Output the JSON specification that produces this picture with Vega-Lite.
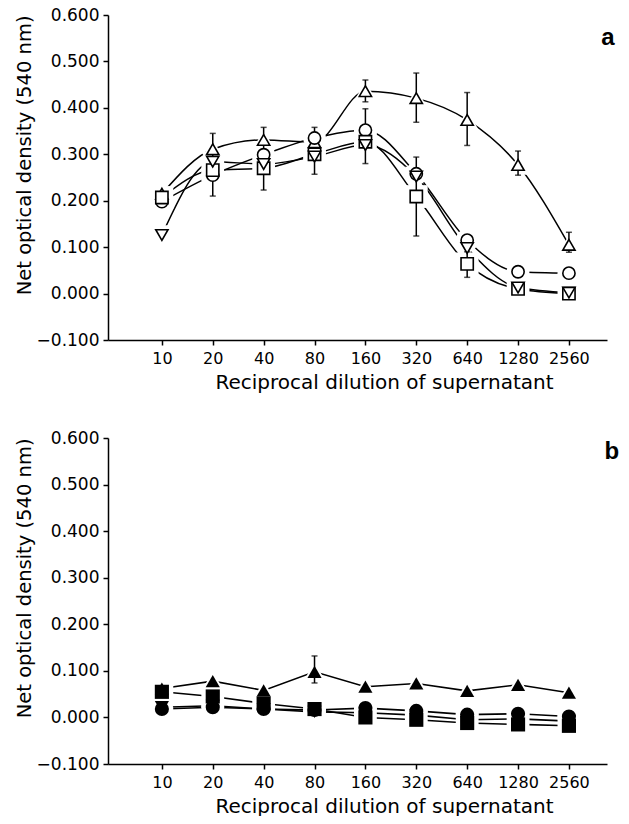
{
  "$schema": "https://vega.github.io/schema/vega-lite/v6.json",
  "padding": {"left": 14, "top": 6, "right": 0, "bottom": 0},
  "background": "white",
  "spacing": 37,
  "datasets": {
    "series": [
      {"panel": "a", "marker": "tri", "dilution": 10, "od": 0.215},
      {"panel": "a", "marker": "tri", "dilution": 20, "od": 0.311},
      {"panel": "a", "marker": "tri", "dilution": 40, "od": 0.331},
      {"panel": "a", "marker": "tri", "dilution": 80, "od": 0.326},
      {"panel": "a", "marker": "tri", "dilution": 160, "od": 0.436},
      {"panel": "a", "marker": "tri", "dilution": 320, "od": 0.421},
      {"panel": "a", "marker": "tri", "dilution": 640, "od": 0.374},
      {"panel": "a", "marker": "tri", "dilution": 1280, "od": 0.277},
      {"panel": "a", "marker": "tri", "dilution": 2560, "od": 0.105},
      {"panel": "a", "marker": "circle", "dilution": 10, "od": 0.198},
      {"panel": "a", "marker": "circle", "dilution": 20, "od": 0.255},
      {"panel": "a", "marker": "circle", "dilution": 40, "od": 0.299},
      {"panel": "a", "marker": "circle", "dilution": 80, "od": 0.335},
      {"panel": "a", "marker": "circle", "dilution": 160, "od": 0.352},
      {"panel": "a", "marker": "circle", "dilution": 320, "od": 0.258},
      {"panel": "a", "marker": "circle", "dilution": 640, "od": 0.115},
      {"panel": "a", "marker": "circle", "dilution": 1280, "od": 0.047},
      {"panel": "a", "marker": "circle", "dilution": 2560, "od": 0.044},
      {"panel": "a", "marker": "square", "dilution": 10, "od": 0.207},
      {"panel": "a", "marker": "square", "dilution": 20, "od": 0.266},
      {"panel": "a", "marker": "square", "dilution": 40, "od": 0.270},
      {"panel": "a", "marker": "square", "dilution": 80, "od": 0.300},
      {"panel": "a", "marker": "square", "dilution": 160, "od": 0.327},
      {"panel": "a", "marker": "square", "dilution": 320, "od": 0.209},
      {"panel": "a", "marker": "square", "dilution": 640, "od": 0.064},
      {"panel": "a", "marker": "square", "dilution": 1280, "od": 0.010},
      {"panel": "a", "marker": "square", "dilution": 2560, "od": 0.000},
      {"panel": "a", "marker": "inv", "dilution": 10, "od": 0.126},
      {"panel": "a", "marker": "inv", "dilution": 20, "od": 0.284},
      {"panel": "a", "marker": "inv", "dilution": 40, "od": 0.279},
      {"panel": "a", "marker": "inv", "dilution": 80, "od": 0.295},
      {"panel": "a", "marker": "inv", "dilution": 160, "od": 0.320},
      {"panel": "a", "marker": "inv", "dilution": 320, "od": 0.252},
      {"panel": "a", "marker": "inv", "dilution": 640, "od": 0.098},
      {"panel": "a", "marker": "inv", "dilution": 1280, "od": 0.013},
      {"panel": "a", "marker": "inv", "dilution": 2560, "od": 0.002},
      {"panel": "b", "marker": "tri", "dilution": 10, "od": 0.062},
      {"panel": "b", "marker": "tri", "dilution": 20, "od": 0.078},
      {"panel": "b", "marker": "tri", "dilution": 40, "od": 0.058},
      {"panel": "b", "marker": "tri", "dilution": 80, "od": 0.098},
      {"panel": "b", "marker": "tri", "dilution": 160, "od": 0.066},
      {"panel": "b", "marker": "tri", "dilution": 320, "od": 0.073},
      {"panel": "b", "marker": "tri", "dilution": 640, "od": 0.057},
      {"panel": "b", "marker": "tri", "dilution": 1280, "od": 0.070},
      {"panel": "b", "marker": "tri", "dilution": 2560, "od": 0.053},
      {"panel": "b", "marker": "square", "dilution": 10, "od": 0.055},
      {"panel": "b", "marker": "square", "dilution": 20, "od": 0.045},
      {"panel": "b", "marker": "square", "dilution": 40, "od": 0.030},
      {"panel": "b", "marker": "square", "dilution": 80, "od": 0.018},
      {"panel": "b", "marker": "square", "dilution": 160, "od": 0.000},
      {"panel": "b", "marker": "square", "dilution": 320, "od": -0.005},
      {"panel": "b", "marker": "square", "dilution": 640, "od": -0.012},
      {"panel": "b", "marker": "square", "dilution": 1280, "od": -0.015},
      {"panel": "b", "marker": "square", "dilution": 2560, "od": -0.018},
      {"panel": "b", "marker": "circle", "dilution": 10, "od": 0.018},
      {"panel": "b", "marker": "circle", "dilution": 20, "od": 0.022},
      {"panel": "b", "marker": "circle", "dilution": 40, "od": 0.018},
      {"panel": "b", "marker": "circle", "dilution": 80, "od": 0.016},
      {"panel": "b", "marker": "circle", "dilution": 160, "od": 0.020},
      {"panel": "b", "marker": "circle", "dilution": 320, "od": 0.014},
      {"panel": "b", "marker": "circle", "dilution": 640, "od": 0.006},
      {"panel": "b", "marker": "circle", "dilution": 1280, "od": 0.008},
      {"panel": "b", "marker": "circle", "dilution": 2560, "od": 0.002},
      {"panel": "b", "marker": "inv", "dilution": 10, "od": 0.022},
      {"panel": "b", "marker": "inv", "dilution": 20, "od": 0.025},
      {"panel": "b", "marker": "inv", "dilution": 40, "od": 0.018},
      {"panel": "b", "marker": "inv", "dilution": 80, "od": 0.012},
      {"panel": "b", "marker": "inv", "dilution": 160, "od": 0.010},
      {"panel": "b", "marker": "inv", "dilution": 320, "od": 0.005},
      {"panel": "b", "marker": "inv", "dilution": 640, "od": -0.005},
      {"panel": "b", "marker": "inv", "dilution": 1280, "od": -0.003},
      {"panel": "b", "marker": "inv", "dilution": 2560, "od": -0.008}
    ],
    "errors": [
      {"panel": "a", "dilution": 20, "lo": 0.210, "hi": 0.345},
      {"panel": "a", "dilution": 40, "lo": 0.223, "hi": 0.358},
      {"panel": "a", "dilution": 80, "lo": 0.257, "hi": 0.358},
      {"panel": "a", "dilution": 160, "lo": 0.413, "hi": 0.460},
      {"panel": "a", "dilution": 160, "lo": 0.280, "hi": 0.398},
      {"panel": "a", "dilution": 320, "lo": 0.369, "hi": 0.475},
      {"panel": "a", "dilution": 320, "lo": 0.124, "hi": 0.294},
      {"panel": "a", "dilution": 640, "lo": 0.319, "hi": 0.433},
      {"panel": "a", "dilution": 640, "lo": 0.035, "hi": 0.090},
      {"panel": "a", "dilution": 1280, "lo": 0.255, "hi": 0.307},
      {"panel": "a", "dilution": 2560, "lo": 0.089, "hi": 0.132},
      {"panel": "b", "dilution": 80, "lo": 0.074, "hi": 0.132}
    ],
    "tags": [
      {"panel": "a", "dilution": 4350, "od": 0.535, "tag": "a"},
      {"panel": "b", "dilution": 4600, "od": 0.555, "tag": "b"}
    ]
  },
  "vconcat": [
    {
      "width": 499,
      "height": 325,
      "encoding": {
        "x": {
          "field": "dilution", "type": "quantitative",
          "scale": {"type": "log", "base": 2, "domain": [4.8, 4300], "nice": false},
          "axis": {"values": [10, 20, 40, 80, 160, 320, 640, 1280, 2560], "format": "d"},
          "title": "Reciprocal dilution of supernatant"
        },
        "y": {
          "field": "od", "type": "quantitative",
          "scale": {"domain": [-0.1, 0.6], "nice": false, "zero": false},
          "axis": {"values": [-0.1, 0, 0.1, 0.2, 0.3, 0.4, 0.5, 0.6], "format": ".3f"},
          "title": "Net optical density (540 nm)"
        }
      },
      "layer": [
        {
          "data": {"name": "series"},
          "transform": [{"filter": "datum.panel == 'a'"}],
          "mark": {"type": "line", "interpolate": "monotone", "color": "black", "strokeWidth": 1.5},
          "encoding": {"detail": {"field": "marker"}}
        },
        {
          "data": {"name": "series"},
          "transform": [{"filter": "datum.panel == 'a'"}],
          "mark": {"type": "point", "filled": true, "color": "white", "opacity": 1, "size": 520},
          "encoding": {
            "shape": {"field": "marker", "scale": {"domain": ["tri", "circle", "square", "inv"], "range": ["triangle-up", "circle", "square", "triangle-down"]}, "legend": null}
          }
        },
        {
          "data": {"name": "errors"},
          "transform": [{"filter": "datum.panel == 'a'"}],
          "mark": {"type": "rule", "color": "black", "strokeWidth": 1.5},
          "encoding": {
            "y": {"field": "lo", "type": "quantitative", "title": "Net optical density (540 nm)"},
            "y2": {"field": "hi"}
          }
        },
        {
          "data": {"name": "errors"},
          "transform": [{"filter": "datum.panel == 'a'"}],
          "mark": {"type": "tick", "orient": "horizontal", "color": "black", "size": 6, "thickness": 1.5},
          "encoding": {"y": {"field": "lo", "type": "quantitative", "title": "Net optical density (540 nm)"}}
        },
        {
          "data": {"name": "errors"},
          "transform": [{"filter": "datum.panel == 'a'"}],
          "mark": {"type": "tick", "orient": "horizontal", "color": "black", "size": 6, "thickness": 1.5},
          "encoding": {"y": {"field": "hi", "type": "quantitative", "title": "Net optical density (540 nm)"}}
        },
        {
          "data": {"name": "series"},
          "transform": [{"filter": "datum.panel == 'a'"}],
          "mark": {"type": "point", "filled": true, "fill": "white", "stroke": "black", "strokeWidth": 1.6, "opacity": 1, "size": 150},
          "encoding": {
            "shape": {"field": "marker", "scale": {"domain": ["tri", "circle", "square", "inv"], "range": ["triangle-up", "circle", "square", "triangle-down"]}, "legend": null}
          }
        },
        {
          "data": {"name": "tags"},
          "transform": [{"filter": "datum.panel == 'a'"}],
          "mark": {"type": "text", "font": "Liberation Sans", "fontWeight": "bold", "fontSize": 24, "align": "center", "baseline": "alphabetic", "color": "black"},
          "encoding": {"text": {"field": "tag"}}
        }
      ]
    },
    {
      "width": 499,
      "height": 326,
      "encoding": {
        "x": {
          "field": "dilution", "type": "quantitative",
          "scale": {"type": "log", "base": 2, "domain": [4.8, 4300], "nice": false},
          "axis": {"values": [10, 20, 40, 80, 160, 320, 640, 1280, 2560], "format": "d"},
          "title": "Reciprocal dilution of supernatant"
        },
        "y": {
          "field": "od", "type": "quantitative",
          "scale": {"domain": [-0.1, 0.6], "nice": false, "zero": false},
          "axis": {"values": [-0.1, 0, 0.1, 0.2, 0.3, 0.4, 0.5, 0.6], "format": ".3f"},
          "title": "Net optical density (540 nm)"
        }
      },
      "layer": [
        {
          "data": {"name": "series"},
          "transform": [{"filter": "datum.panel == 'b'"}],
          "mark": {"type": "line", "color": "black", "strokeWidth": 1.6},
          "encoding": {"detail": {"field": "marker"}}
        },
        {
          "data": {"name": "series"},
          "transform": [{"filter": "datum.panel == 'b'"}],
          "mark": {"type": "point", "filled": true, "color": "white", "opacity": 1, "size": 520},
          "encoding": {
            "shape": {"field": "marker", "scale": {"domain": ["tri", "circle", "square", "inv"], "range": ["triangle-up", "circle", "square", "triangle-down"]}, "legend": null}
          }
        },
        {
          "data": {"name": "errors"},
          "transform": [{"filter": "datum.panel == 'b'"}],
          "mark": {"type": "rule", "color": "black", "strokeWidth": 1.5},
          "encoding": {
            "y": {"field": "lo", "type": "quantitative", "title": "Net optical density (540 nm)"},
            "y2": {"field": "hi"}
          }
        },
        {
          "data": {"name": "errors"},
          "transform": [{"filter": "datum.panel == 'b'"}],
          "mark": {"type": "tick", "orient": "horizontal", "color": "black", "size": 6, "thickness": 1.5},
          "encoding": {"y": {"field": "lo", "type": "quantitative", "title": "Net optical density (540 nm)"}}
        },
        {
          "data": {"name": "errors"},
          "transform": [{"filter": "datum.panel == 'b'"}],
          "mark": {"type": "tick", "orient": "horizontal", "color": "black", "size": 6, "thickness": 1.5},
          "encoding": {"y": {"field": "hi", "type": "quantitative", "title": "Net optical density (540 nm)"}}
        },
        {
          "data": {"name": "series"},
          "transform": [{"filter": "datum.panel == 'b'"}],
          "mark": {"type": "point", "filled": true, "color": "black", "opacity": 1, "size": 200},
          "encoding": {
            "shape": {"field": "marker", "scale": {"domain": ["tri", "circle", "square", "inv"], "range": ["triangle-up", "circle", "square", "triangle-down"]}, "legend": null}
          }
        },
        {
          "data": {"name": "tags"},
          "transform": [{"filter": "datum.panel == 'b'"}],
          "mark": {"type": "text", "font": "Liberation Sans", "fontWeight": "bold", "fontSize": 24, "align": "center", "baseline": "alphabetic", "color": "black"},
          "encoding": {"text": {"field": "tag"}}
        }
      ]
    }
  ],
  "config": {
    "font": "DejaVu Sans",
    "view": {"stroke": null},
    "axis": {
      "grid": false,
      "domainColor": "black", "domainWidth": 1.5,
      "tickColor": "black", "tickWidth": 1.5, "tickSize": 5,
      "labelColor": "black", "titleColor": "black",
      "labelFont": "DejaVu Sans", "titleFont": "DejaVu Sans", "titleFontWeight": "normal",
      "labelOverlap": false
    },
    "axisX": {"labelFontSize": 16, "titleFontSize": 20, "labelPadding": 5, "titlePadding": 6, "labelFlush": false, "titleX": 276},
    "axisY": {"labelFontSize": 17, "titleFontSize": 19.5, "labelPadding": 4, "titlePadding": 2, "titleAnchor": "end"}
  }
}
